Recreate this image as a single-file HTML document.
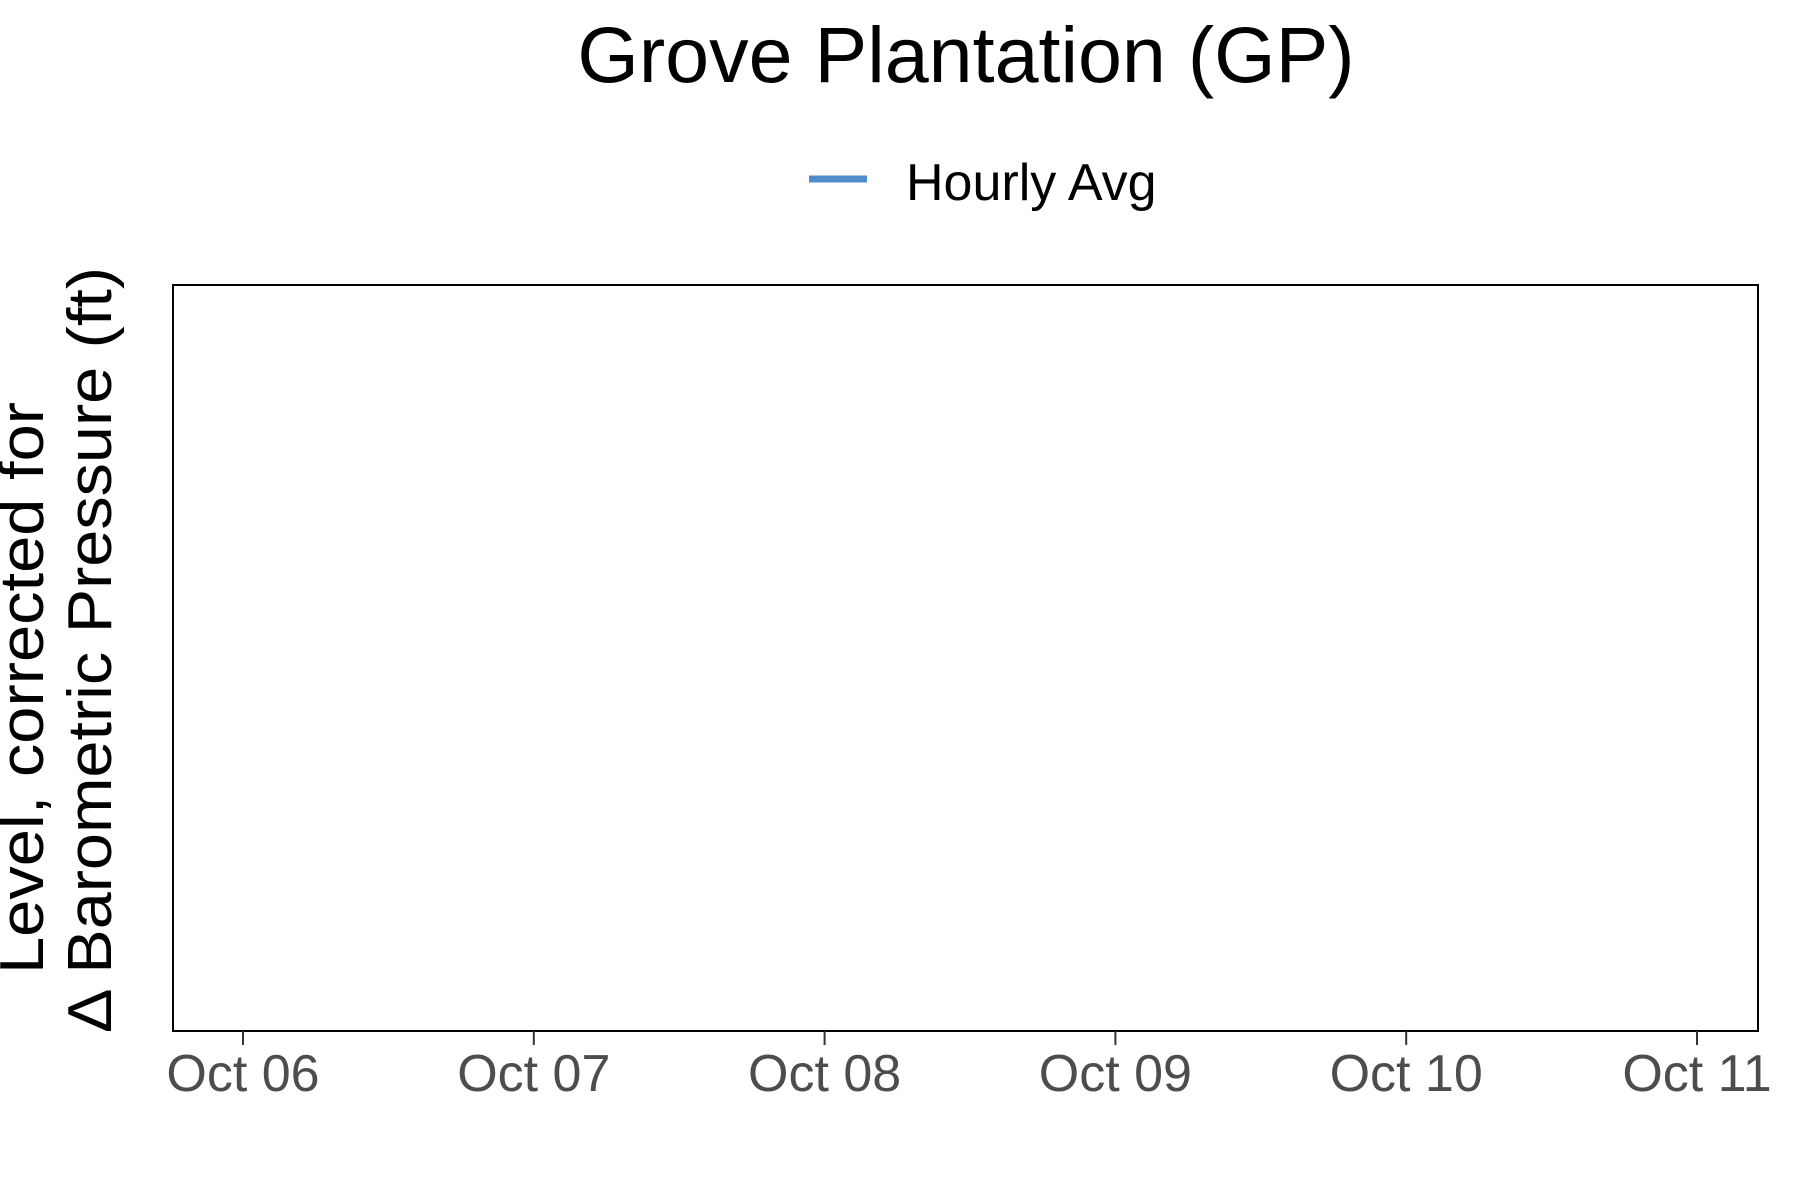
<!DOCTYPE html>
<html><head><meta charset="utf-8"><style>
html,body{margin:0;padding:0;background:#fff;width:1800px;height:1200px;overflow:hidden}
svg text{font-family:"Liberation Sans",sans-serif}
</style></head><body>
<svg id="chart" width="1800" height="1200" viewBox="0 0 1800 1200" xmlns="http://www.w3.org/2000/svg">
<rect width="1800" height="1200" fill="#fff"/>
<text x="966" y="82" font-size="79" text-anchor="middle" fill="#000">Grove Plantation (GP)</text>
<g>
<line x1="809" y1="179" x2="867" y2="179" stroke="#4F8CC9" stroke-width="7"/>
<text x="906" y="200" font-size="52" fill="#000">Hourly Avg</text>
</g>
<text transform="translate(43,688) rotate(-90)" font-size="62" text-anchor="middle" textLength="572" lengthAdjust="spacingAndGlyphs" fill="#000">Level, corrected for</text>
<text transform="translate(111,650) rotate(-90)" font-size="62" text-anchor="middle" textLength="766" lengthAdjust="spacingAndGlyphs" fill="#000">Δ Barometric Pressure (ft)</text>
<rect x="173" y="285" width="1585" height="746" fill="none" stroke="#000" stroke-width="2"/>
<g id="xaxis"></g>
<g id="series"></g>
</svg>
<script>
const tickLabels = ["Oct 06","Oct 07","Oct 08","Oct 09","Oct 10","Oct 11"];
const tickDays = [0,1,2,3,4,5];
const hourlyTimes = [];
const hourlyValues = [];
const NS="http://www.w3.org/2000/svg";
function xScale(d){ return 243 + d*290.8; }
const yMin=0,yMax=1;
function yScale(v){ return 1030 - (v-yMin)/(yMax-yMin)*745; }
const ax=document.getElementById('xaxis');
tickDays.forEach((d,i)=>{
  const l=document.createElementNS(NS,'line');
  
  
  l.setAttribute('x1',xScale(d));l.setAttribute('x2',xScale(d));
  l.setAttribute('y1',1031);l.setAttribute('y2',1045);
  l.setAttribute('stroke','#333');l.setAttribute('stroke-width','2');
  ax.appendChild(l);
  const t=document.createElementNS(NS,'text');
  
  
  t.setAttribute('x',xScale(d));t.setAttribute('y',1091);
  t.setAttribute('font-size','52');t.setAttribute('text-anchor','middle');
  t.setAttribute('fill','#4d4d4d');
  t.textContent=tickLabels[i];
  ax.appendChild(t);
});
if(hourlyValues.length){
  const p=document.createElementNS(NS,'polyline');
  
  
  p.setAttribute('points',hourlyValues.map((v,i)=>xScale(hourlyTimes[i])+','+yScale(v)).join(' '));
  p.setAttribute('fill','none');p.setAttribute('stroke','#4F8CC9');p.setAttribute('stroke-width','3');
  document.getElementById('series').appendChild(p);
}
</script>
</body></html>
